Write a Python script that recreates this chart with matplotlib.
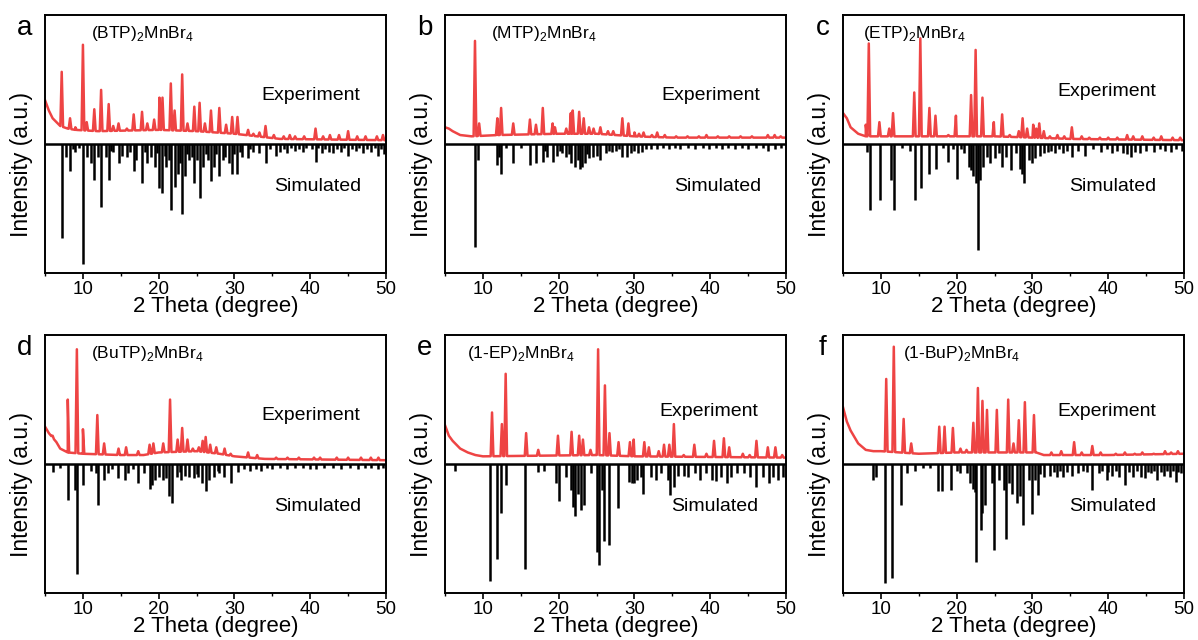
#!/usr/bin/python
"""
    PXRD patterns of six (X)2MnBr4 compounds: experiment vs simulated
"""

import matplotlib
matplotlib.use('Agg')
import matplotlib.pyplot as plt
from matplotlib.ticker import MultipleLocator
import numpy as np

plt.rcParams['font.family'] = ['Liberation Sans', 'DejaVu Sans']
plt.rcParams['mathtext.fontset'] = 'custom'
plt.rcParams['mathtext.rm'] = 'Liberation Sans'

# ---------------- data (2theta in degree, intensity in a.u.) ----------------
letters = ['a', 'b', 'c', 'd', 'e', 'f']
names = [r'(BTP)$_\mathregular{2}$MnBr$_\mathregular{4}$',
         r'(MTP)$_\mathregular{2}$MnBr$_\mathregular{4}$',
         r'(ETP)$_\mathregular{2}$MnBr$_\mathregular{4}$',
         r'(BuTP)$_\mathregular{2}$MnBr$_\mathregular{4}$',
         r'(1-EP)$_\mathregular{2}$MnBr$_\mathregular{4}$',
         r'(1-BuP)$_\mathregular{2}$MnBr$_\mathregular{4}$']

# experimental background anchors
a_bg_x = [5, 5.5, 6, 7, 8, 9, 12, 20, 25, 30, 33, 36, 50]
a_bg_y = [0.34, 0.26, 0.20, 0.14, 0.12, 0.11, 0.10, 0.11, 0.10, 0.08, 0.06, 0.04, 0.03]
b_bg_x = [5, 5.5, 6, 7, 8.5, 12, 20, 25, 30, 35, 50]
b_bg_y = [0.13, 0.12, 0.10, 0.07, 0.06, 0.07, 0.08, 0.08, 0.06, 0.05, 0.05]
c_bg_x = [5, 5.5, 6, 7, 8, 10, 20, 25, 30, 35, 50]
c_bg_y = [0.24, 0.20, 0.13, 0.08, 0.06, 0.06, 0.06, 0.06, 0.05, 0.04, 0.03]
d_bg_x = [5, 5.5, 6.5, 7, 8, 10, 15, 18, 20, 25, 28, 30, 34, 50]
d_bg_y = [0.29, 0.24, 0.17, 0.12, 0.09, 0.08, 0.07, 0.07, 0.09, 0.10, 0.08, 0.06, 0.04, 0.03]
e_bg_x = [5, 5.5, 6, 7, 8, 9, 10, 25, 30, 50]
e_bg_y = [0.30, 0.22, 0.18, 0.12, 0.09, 0.07, 0.06, 0.07, 0.06, 0.05]
f_bg_x = [5, 5.5, 6, 7, 8, 9, 10, 15, 20, 25, 30.5, 31.5, 40, 50]
f_bg_y = [0.44, 0.33, 0.26, 0.16, 0.11, 0.10, 0.10, 0.08, 0.09, 0.09, 0.09, 0.07, 0.07, 0.08]

# experimental peaks (incl. small noise bumps seen on the trace)
a_exp_pos = [7.2, 8.3, 9.0, 10.0, 10.5, 11.5, 12.4, 13.4, 14.0, 14.7, 15.8,
             16.7, 17.8, 18.5, 19.4, 20.1, 20.5, 21.6, 22.1, 23.1, 23.8, 24.7,
             25.4, 26.1, 26.9, 28.0, 28.9, 29.7, 30.4, 31.8, 32.5, 33.3, 34.1,
             35.2, 36.5, 37.3, 38.0, 39.2, 40.7, 41.7, 42.6, 43.8, 45.0, 46.2,
             47.3, 48.8, 49.6]
a_exp_int = [0.56, 0.20, 0.13, 0.77, 0.17, 0.27, 0.42, 0.31, 0.14, 0.16, 0.12,
             0.23, 0.25, 0.16, 0.19, 0.36, 0.36, 0.47, 0.26, 0.54, 0.16, 0.29,
             0.32, 0.16, 0.26, 0.28, 0.15, 0.21, 0.21, 0.11, 0.08, 0.09, 0.14,
             0.07, 0.06, 0.07, 0.06, 0.06, 0.12, 0.06, 0.07, 0.07, 0.10, 0.06,
             0.06, 0.06, 0.07]
b_exp_pos = [8.95, 9.5, 11.9, 12.4, 14.0, 16.2, 17.0, 17.9, 19.2, 19.5, 21.0,
             21.6, 21.85, 22.7, 23.3, 24.0, 24.6, 25.5, 26.5, 27.2, 28.4, 29.2,
             30.0, 30.6, 31.2, 32.3, 33.0, 34.0, 35.5, 37.0, 38.5, 39.5, 41.0,
             42.5, 44.0, 45.5, 47.6, 48.5, 49.3]
b_exp_int = [0.80, 0.16, 0.20, 0.28, 0.16, 0.19, 0.15, 0.28, 0.16, 0.13, 0.12,
             0.24, 0.26, 0.25, 0.20, 0.13, 0.12, 0.13, 0.10, 0.10, 0.20, 0.16,
             0.09, 0.08, 0.09, 0.07, 0.09, 0.07, 0.06, 0.06, 0.06, 0.07, 0.06,
             0.06, 0.06, 0.06, 0.07, 0.07, 0.06]
c_exp_pos = [8.0, 8.4, 9.8, 11.1, 11.6, 14.4, 15.2, 16.4, 17.2, 18.9, 19.9,
             21.9, 22.5, 23.4, 24.9, 26.0, 27.0, 28.2, 28.7, 29.3, 30.1, 30.5,
             30.9, 31.5, 32.3, 33.3, 34.2, 35.2, 36.5, 37.5, 38.9, 40.0, 41.2,
             42.5, 43.3, 44.5, 46.0, 47.0, 48.5, 49.5]
c_exp_int = [0.15, 0.78, 0.17, 0.12, 0.24, 0.40, 0.82, 0.28, 0.22, 0.07, 0.22,
             0.38, 0.73, 0.36, 0.17, 0.23, 0.07, 0.10, 0.20, 0.12, 0.15, 0.12,
             0.16, 0.10, 0.06, 0.07, 0.06, 0.13, 0.06, 0.05, 0.05, 0.05, 0.05,
             0.07, 0.06, 0.06, 0.05, 0.06, 0.05, 0.05]
d_exp_pos = [6.0, 8.0, 9.2, 10.0, 11.9, 12.8, 14.7, 15.7, 17.3, 18.8, 19.3,
             20.6, 21.5, 22.5, 23.1, 23.8, 24.5, 25.3, 25.8, 26.2, 26.8, 27.6,
             28.7, 29.5, 31.8, 33.0, 35.5, 37.0, 38.5, 40.5, 41.3, 43.5, 45.0,
             46.7, 48.0, 49.0]
d_exp_int = [0.22, 0.50, 0.89, 0.27, 0.38, 0.16, 0.12, 0.13, 0.10, 0.15, 0.16,
             0.16, 0.50, 0.19, 0.28, 0.19, 0.12, 0.13, 0.18, 0.21, 0.15, 0.13,
             0.12, 0.08, 0.09, 0.07, 0.05, 0.05, 0.05, 0.05, 0.05, 0.05, 0.05,
             0.05, 0.05, 0.05]
e_exp_pos = [11.2, 12.5, 13.0, 15.7, 17.3, 19.9, 21.7, 22.7, 23.2, 24.2, 25.2,
             26.1, 26.7, 27.9, 29.4, 29.9, 31.3, 31.9, 33.2, 33.9, 34.6, 35.2,
             36.5, 37.9, 39.5, 40.5, 41.8, 42.5, 44.3, 45.2, 46.1, 47.6, 48.6,
             49.5]
e_exp_int = [0.40, 0.31, 0.70, 0.24, 0.11, 0.22, 0.25, 0.22, 0.19, 0.11, 0.89,
             0.61, 0.24, 0.17, 0.17, 0.19, 0.17, 0.13, 0.10, 0.15, 0.15, 0.31,
             0.07, 0.15, 0.08, 0.18, 0.20, 0.13, 0.08, 0.07, 0.18, 0.13, 0.13,
             0.07]
f_exp_pos = [10.7, 11.7, 13.0, 14.0, 17.7, 18.4, 19.5, 20.5, 21.3, 22.2, 22.8,
             23.4, 24.0, 25.3, 26.8, 27.5, 28.2, 29.0, 30.2, 32.5, 33.8, 35.5,
             36.5, 37.9, 39.0, 41.0, 42.2, 43.5, 44.5, 46.0, 47.5, 48.3, 49.2]
f_exp_int = [0.66, 0.91, 0.35, 0.16, 0.29, 0.29, 0.28, 0.12, 0.11, 0.32, 0.59,
             0.49, 0.42, 0.42, 0.50, 0.16, 0.34, 0.48, 0.38, 0.09, 0.10, 0.17,
             0.09, 0.14, 0.09, 0.08, 0.09, 0.08, 0.09, 0.08, 0.10, 0.09, 0.10]

# simulated reflections (drawn downward)
a_sim_pos = [7.2, 7.8, 8.3, 8.7, 9.0, 9.5, 10.0, 10.5, 11.0, 11.5, 12.0, 12.4,
             13.0, 13.4, 13.7, 14.0, 14.7, 15.2, 15.8, 16.2, 16.7, 17.0, 17.8,
             18.2, 18.5, 19.0, 19.5, 19.8, 20.1, 20.5, 20.8, 21.0, 21.3, 21.6,
             22.1, 22.5, 22.8, 23.1, 23.5, 23.8, 24.0, 24.4, 24.7, 25.1, 25.4,
             25.9, 26.2, 26.5, 26.9, 27.3, 27.6, 28.0, 28.5, 28.8, 29.3, 29.7,
             30.0, 30.4, 30.7, 31.0, 31.8, 32.0, 32.5, 33.2, 34.1, 34.7, 35.5,
             36.0, 36.5, 37.0, 37.5, 38.0, 38.5, 39.0, 39.5, 40.2, 40.7, 41.0,
             41.5, 42.0, 42.5, 43.0, 43.5, 44.0, 44.5, 45.0, 45.5, 46.0, 46.5,
             47.0, 47.5, 48.0, 48.5, 49.0, 49.3, 49.7]
a_sim_int = [0.73, 0.10, 0.21, 0.04, 0.06, 0.03, 0.93, 0.10, 0.15, 0.28, 0.10,
             0.49, 0.10, 0.28, 0.05, 0.06, 0.15, 0.09, 0.10, 0.06, 0.21, 0.12,
             0.30, 0.06, 0.15, 0.10, 0.18, 0.07, 0.34, 0.38, 0.09, 0.18, 0.12,
             0.51, 0.33, 0.23, 0.15, 0.54, 0.25, 0.08, 0.12, 0.10, 0.30, 0.12,
             0.42, 0.18, 0.08, 0.12, 0.29, 0.18, 0.08, 0.25, 0.12, 0.10, 0.15,
             0.23, 0.08, 0.23, 0.06, 0.10, 0.11, 0.04, 0.06, 0.07, 0.15, 0.04,
             0.09, 0.06, 0.04, 0.07, 0.03, 0.05, 0.04, 0.06, 0.03, 0.04, 0.14,
             0.03, 0.07, 0.04, 0.06, 0.07, 0.04, 0.06, 0.03, 0.09, 0.04, 0.05,
             0.03, 0.07, 0.04, 0.06, 0.03, 0.09, 0.04, 0.08]
b_sim_pos = [8.9, 9.3, 11.9, 12.1, 12.4, 13.0, 14.0, 15.0, 16.2, 17.0, 17.9,
             18.2, 18.5, 19.2, 19.8, 20.2, 20.5, 21.0, 21.3, 21.6, 22.2, 22.5,
             22.8, 23.1, 23.5, 23.8, 24.0, 24.5, 25.0, 25.5, 26.2, 26.6, 27.0,
             27.5, 28.0, 28.4, 29.0, 29.5, 30.0, 30.5, 31.0, 31.5, 32.2, 33.0,
             33.8, 34.5, 35.3, 36.0, 37.0, 38.0, 39.0, 39.8, 40.7, 41.5, 42.3,
             43.3, 44.2, 45.0, 46.0, 47.0, 47.6, 48.5, 49.3]
b_sim_int = [0.80, 0.12, 0.16, 0.10, 0.23, 0.03, 0.15, 0.03, 0.16, 0.15, 0.14,
             0.05, 0.10, 0.14, 0.09, 0.05, 0.07, 0.10, 0.08, 0.15, 0.18, 0.12,
             0.19, 0.18, 0.15, 0.08, 0.11, 0.10, 0.09, 0.12, 0.07, 0.05, 0.06,
             0.05, 0.04, 0.10, 0.10, 0.07, 0.05, 0.07, 0.06, 0.04, 0.04, 0.04,
             0.03, 0.04, 0.03, 0.04, 0.03, 0.04, 0.03, 0.04, 0.03, 0.04, 0.03,
             0.04, 0.03, 0.04, 0.03, 0.03, 0.05, 0.04, 0.03]
c_sim_pos = [8.1, 8.5, 9.9, 11.3, 11.7, 12.8, 13.8, 14.5, 15.3, 16.4, 17.3,
             18.2, 18.9, 19.5, 20.0, 20.6, 21.0, 21.6, 21.9, 22.2, 22.5, 22.8,
             23.1, 23.5, 24.0, 24.4, 25.0, 25.6, 26.0, 26.5, 27.2, 27.8, 28.3,
             28.6, 28.9, 29.5, 30.0, 30.4, 31.0, 31.5, 32.0, 32.5, 33.0, 33.5,
             34.0, 34.5, 35.2, 36.0, 37.0, 38.0, 39.0, 39.8, 40.5, 41.2, 42.0,
             42.5, 43.0, 43.5, 44.2, 45.0, 46.0, 46.8, 47.5, 48.3, 49.0, 49.7]
c_sim_int = [0.06, 0.51, 0.43, 0.28, 0.51, 0.03, 0.05, 0.43, 0.34, 0.23, 0.19,
             0.03, 0.14, 0.04, 0.27, 0.04, 0.07, 0.18, 0.20, 0.25, 0.30, 0.82,
             0.28, 0.18, 0.10, 0.15, 0.11, 0.07, 0.18, 0.10, 0.20, 0.07, 0.19,
             0.23, 0.30, 0.12, 0.15, 0.11, 0.09, 0.07, 0.06, 0.05, 0.07, 0.04,
             0.07, 0.05, 0.10, 0.05, 0.09, 0.04, 0.06, 0.04, 0.07, 0.05, 0.07,
             0.08, 0.10, 0.06, 0.07, 0.05, 0.06, 0.04, 0.05, 0.06, 0.04, 0.05]
d_sim_pos = [6.0, 7.0, 8.0, 8.9, 9.2, 10.0, 11.0, 11.7, 12.0, 12.8, 13.3, 13.8,
             14.6, 15.5, 16.0, 16.6, 17.3, 18.0, 18.8, 19.1, 19.5, 20.0, 20.6,
             21.0, 21.4, 21.7, 22.4, 22.8, 23.0, 23.5, 24.0, 24.6, 25.0, 25.2,
             25.7, 26.2, 26.6, 27.3, 27.8, 28.0, 28.6, 29.6, 30.5, 31.2, 32.0,
             32.8, 33.5, 34.3, 35.0, 36.0, 37.0, 38.0, 39.0, 40.0, 40.8, 41.8,
             43.0, 44.0, 45.2, 46.3, 47.2, 48.0, 49.0, 49.6]
d_sim_int = [0.06, 0.03, 0.28, 0.20, 0.85, 0.16, 0.05, 0.07, 0.32, 0.12, 0.07,
             0.04, 0.11, 0.12, 0.07, 0.04, 0.15, 0.07, 0.19, 0.16, 0.12, 0.10,
             0.12, 0.11, 0.25, 0.30, 0.10, 0.06, 0.12, 0.09, 0.10, 0.11, 0.08,
             0.10, 0.15, 0.21, 0.12, 0.10, 0.05, 0.07, 0.10, 0.15, 0.06, 0.04,
             0.05, 0.04, 0.05, 0.03, 0.04, 0.03, 0.04, 0.03, 0.03, 0.04, 0.04,
             0.03, 0.03, 0.04, 0.03, 0.04, 0.03, 0.03, 0.04, 0.03]
e_sim_pos = [6.3, 10.9, 11.9, 12.4, 13.0, 15.6, 17.3, 18.0, 19.7, 20.0, 21.0,
             21.6, 21.9, 22.2, 22.6, 23.0, 23.4, 24.3, 25.1, 25.3, 25.7, 26.0,
             26.6, 27.8, 29.3, 29.7, 30.0, 30.3, 30.9, 31.1, 32.2, 32.8, 33.5,
             34.4, 34.7, 35.2, 35.8, 36.5, 37.0, 38.0, 38.6, 39.5, 40.2, 40.7,
             41.4, 42.2, 42.8, 43.5, 44.5, 45.3, 46.0, 47.0, 47.7, 48.3, 49.0,
             49.6]
e_sim_int = [0.05, 0.91, 0.74, 0.38, 0.16, 0.81, 0.06, 0.05, 0.15, 0.29, 0.10,
             0.20, 0.33, 0.40, 0.23, 0.36, 0.32, 0.07, 0.68, 0.78, 0.20, 0.60,
             0.63, 0.34, 0.14, 0.15, 0.15, 0.12, 0.10, 0.23, 0.10, 0.12, 0.07,
             0.12, 0.24, 0.18, 0.09, 0.09, 0.10, 0.07, 0.12, 0.07, 0.12, 0.13,
             0.10, 0.15, 0.10, 0.07, 0.07, 0.10, 0.18, 0.10, 0.15, 0.10, 0.12,
             0.10]
f_sim_pos = [9.0, 9.4, 10.5, 11.4, 12.7, 13.5, 14.5, 15.5, 16.5, 17.5, 18.1,
             19.3, 20.0, 20.5, 21.3, 21.8, 22.1, 22.4, 22.5, 23.2, 23.4, 23.8,
             24.6, 24.9, 25.6, 26.2, 26.5, 26.9, 27.3, 27.9, 28.4, 28.8, 29.5,
             29.9, 30.3, 30.7, 31.0, 31.5, 32.3, 32.8, 33.2, 33.6, 34.0, 34.6,
             35.2, 36.0, 36.7, 37.2, 37.8, 38.8, 39.2, 39.8, 40.0, 40.5, 41.0,
             41.4, 42.2, 42.7, 43.3, 43.8, 44.3, 44.9, 45.2, 45.6, 46.0, 46.5,
             47.0, 47.4, 47.8, 48.2, 48.5, 48.9, 49.2, 49.6]
f_sim_int = [0.12, 0.10, 0.92, 0.88, 0.32, 0.07, 0.05, 0.03, 0.03, 0.21, 0.21,
             0.20, 0.05, 0.07, 0.07, 0.15, 0.19, 0.22, 0.76, 0.51, 0.38, 0.32,
             0.15, 0.67, 0.12, 0.20, 0.58, 0.15, 0.23, 0.30, 0.25, 0.47, 0.12,
             0.39, 0.12, 0.24, 0.08, 0.10, 0.09, 0.06, 0.10, 0.05, 0.10, 0.06,
             0.09, 0.07, 0.05, 0.06, 0.20, 0.07, 0.05, 0.12, 0.06, 0.09, 0.05,
             0.10, 0.16, 0.06, 0.10, 0.05, 0.10, 0.11, 0.06, 0.07, 0.05, 0.12,
             0.06, 0.09, 0.05, 0.10, 0.05, 0.14, 0.06, 0.07]

bg_x = [a_bg_x, b_bg_x, c_bg_x, d_bg_x, e_bg_x, f_bg_x]
bg_y = [a_bg_y, b_bg_y, c_bg_y, d_bg_y, e_bg_y, f_bg_y]
exp_pos = [a_exp_pos, b_exp_pos, c_exp_pos, d_exp_pos, e_exp_pos, f_exp_pos]
exp_int = [a_exp_int, b_exp_int, c_exp_int, d_exp_int, e_exp_int, f_exp_int]
sim_pos = [a_sim_pos, b_sim_pos, c_sim_pos, d_sim_pos, e_sim_pos, f_sim_pos]
sim_int = [a_sim_int, b_sim_int, c_sim_int, d_sim_int, e_sim_int, f_sim_int]

# text placement (x in degree, y in axis units)
name_x = [11.0, 11.0, 7.7, 11.0, 7.9, 12.9]
exp_x = [33.6, 33.6, 33.3, 33.6, 33.3, 33.3]
exp_y = [0.375, 0.375, 0.41, 0.375, 0.41, 0.41]
sim_x = [35.2, 35.2, 34.9, 35.2, 34.8, 34.9]

RED = '#EE4444'
HALF_W = 0.18  # half width of a drawn experimental peak


def exp_curve(bx, by, pos, inten):
    """
        Build the polyline of the measured pattern: background anchors plus a
        foot-tip-foot triple for each observed reflection.
    """
    xs = list(bx)
    ys = list(by)
    for p, h in zip(pos, inten):
        for xx in (p - HALF_W, p + HALF_W):
            xs.append(xx)
            ys.append(np.interp(xx, bx, by))
        xs.append(p)
        ys.append(h)
    order = np.argsort(xs, kind='stable')
    return np.array(xs)[order], np.array(ys)[order]


fig = plt.figure(figsize=(11.98, 6.4), dpi=100)
lefts = [0.0376, 0.3715, 0.7037]
bottoms = [0.5734, 0.0734]
width, height = 0.2846, 0.403

for i in range(6):
    ax = fig.add_axes([lefts[i % 3], bottoms[i // 3], width, height])

    # simulated sticks
    ax.vlines(sim_pos[i], 0, -np.array(sim_int[i]), color='k', lw=1.8)
    ax.plot([5, 50], [0, 0], color='k', lw=1.8)

    # experiment
    xs, ys = exp_curve(bg_x[i], bg_y[i], exp_pos[i], exp_int[i])
    ax.plot(xs, ys, color=RED, lw=1.8)

    ax.set_xlim(5, 50)
    ax.set_ylim(-1, 1)
    ax.xaxis.set_major_locator(MultipleLocator(10))
    ax.xaxis.set_minor_locator(MultipleLocator(5))
    ax.set_yticks([])
    ax.tick_params(axis='x', which='major', direction='out', length=4,
                   width=1.2, labelsize=13.5, pad=1.5)
    ax.tick_params(axis='x', which='minor', direction='out', length=2.5,
                   width=1.0)
    for sp in ax.spines.values():
        sp.set_linewidth(1.4)

    ax.set_xlabel('2 Theta (degree)', fontsize=16)
    ax.xaxis.set_label_coords(0.5, -0.13)
    ax.xaxis.label.set_va('center')
    ax.set_ylabel('Intensity (a.u.)', fontsize=16.5)
    ax.yaxis.set_label_coords(-0.035, 0.42)

    ax.text(name_x[i], 0.86, names[i], fontsize=12.5, va='center', ha='left')
    ax.text(exp_x[i], exp_y[i], 'Experiment', fontsize=14, va='center',
            ha='left')
    ax.text(sim_x[i], -0.33, 'Simulated', fontsize=14, va='center',
            ha='left')
    ax.text(-0.06, 0.95, letters[i], transform=ax.transAxes, fontsize=20,
            va='center', ha='center')

fig.savefig('out.png', dpi=100)
